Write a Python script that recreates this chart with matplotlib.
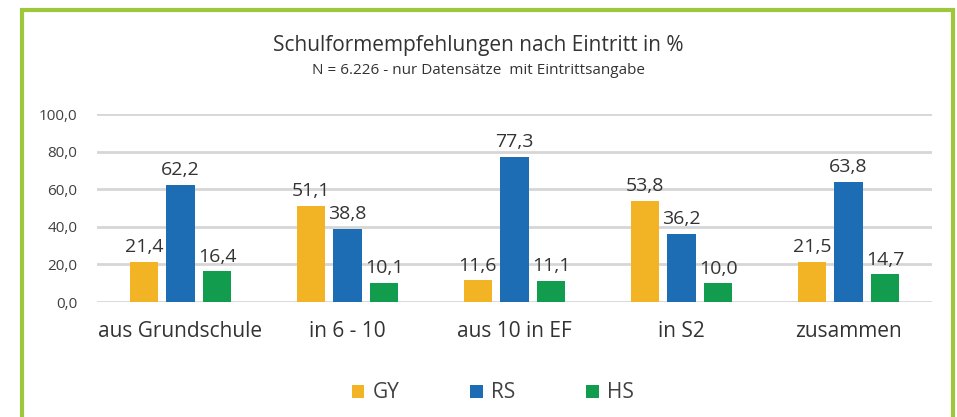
import matplotlib.pyplot as plt
import numpy as np
from matplotlib.patches import Rectangle

categories = ['aus Grundschule', 'in 6 - 10', 'aus 10 in EF', 'in S2', 'zusammen']
gy = [21.4, 51.1, 11.6, 53.8, 21.5]
rs = [62.2, 38.8, 77.3, 36.2, 63.8]
hs = [16.4, 10.1, 11.1, 10.0, 14.7]
series_names = ['GY', 'RS', 'HS']
yticks = [0, 20, 40, 60, 80, 100]

colors = ['#f2b425', '#1d6db5', '#129c4e']
plt.rcParams['font.family'] = ['Open Sans', 'DejaVu Sans']
txt = '#404040'

fig = plt.figure(figsize=(9.57, 4.17), dpi=100)
ax = fig.add_axes([97 / 957, 1 - 302 / 417, 835 / 957, 188 / 417])

x = np.arange(len(categories))
w = 0.17
gap = 0.22
for i, (vals, name) in enumerate(zip([gy, rs, hs], series_names)):
    pos = x + (i - 1) * gap
    ax.bar(pos, vals, width=w, color=colors[i], label=name, zorder=3)
    for p, v in zip(pos, vals):
        ax.text(p, v + 3, f'{v:.1f}'.replace('.', ','), ha='center', va='bottom',
                fontsize=14, color='#333333')

ax.set_xlim(-0.5, len(categories) - 0.5)
ax.set_ylim(0, 100)
ax.set_yticks(yticks)
ax.set_yticklabels([f'{t:.1f}'.replace('.', ',') for t in yticks], fontsize=11, color=txt)
ax.set_xticks(x)
ax.set_xticklabels(categories, fontsize=15, color='#333333')
ax.tick_params(axis='both', length=0)
ax.tick_params(axis='x', pad=14)
ax.tick_params(axis='y', pad=14)
ax.grid(axis='y', color='#d6d6d6', linewidth=2, zorder=0)
for s in ax.spines.values():
    s.set_visible(False)

fig.text(0.5, 1 - 45 / 417, 'Schulformempfehlungen nach Eintritt in %', ha='center',
         va='center', fontsize=15, color='#333333')
fig.text(0.5, 1 - 71 / 417, 'N = 6.226 - nur Datensätze  mit Eintrittsangabe', ha='center',
         va='center', fontsize=11, color='#333333')

leg = fig.legend(loc='center', bbox_to_anchor=(493 / 957, 1 - 393 / 417), ncol=3,
                 frameon=False, fontsize=15, handlelength=0.6, handleheight=0.6,
                 columnspacing=3.4, handletextpad=0.4)
for t in leg.get_texts():
    t.set_color(txt)

# green frame
fig.patches.append(Rectangle((22 / 957, -0.1), 931 / 957, 1.1 - 10 / 417,
                             transform=fig.transFigure, fill=False,
                             edgecolor='#9dc83c', linewidth=3))

fig.savefig('out.png', dpi=100)
